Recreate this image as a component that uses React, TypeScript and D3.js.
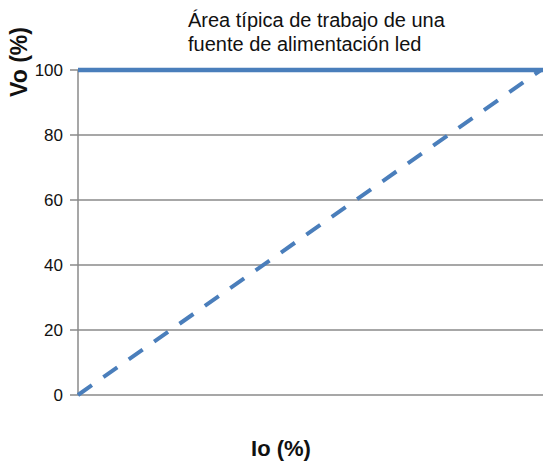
import React from "react";
import * as d3 from "d3";

const yTicks = [0, 20, 40, 60, 80, 100];
const lineIo = [0, 100];
const lineVo = [0, 100];
const limitIo = [0, 100];
const limitVo = [100, 100];
const titleLines = ["Área típica de trabajo de una", "fuente de alimentación led"];
const xLabel = "Io (%)";
const yLabel = "Vo (%)";

export default function App() {
  const W = 543, H = 469;
  const x = d3.scaleLinear().domain([0, 100]).range([78, 541]);
  const y = d3.scaleLinear().domain([0, 100]).range([395, 70]);
  const line = d3.line<number>().x((_, i) => x(lineIo[i])).y((d) => y(d));
  const limit = d3.line<number>().x((_, i) => x(limitIo[i])).y((d) => y(d));
  const font = "'Liberation Sans', Arial, sans-serif";
  return (
    <svg width={W} height={H} style={{ position: "absolute", left: 0, top: 0, background: "#fff" }} fontFamily={font}>
      {yTicks.map((t) => (
        <g key={t}>
          {t !== 100 && (
            <line x1={x(0)} x2={W} y1={y(t)} y2={y(t)} stroke="#8a8a8a" strokeWidth={1.5} />
          )}
          <line x1={70} x2={x(0)} y1={y(t)} y2={y(t)} stroke="#8a8a8a" strokeWidth={1.5} />
          <text x={63} y={y(t)} dy="0.36em" textAnchor="end" fontSize={17} fill="#111">{t}</text>
        </g>
      ))}
      <line x1={x(0)} x2={x(0)} y1={y(0)} y2={y(100)} stroke="#8a8a8a" strokeWidth={1.5} />
      <path d={limit(limitVo) || ""} fill="none" stroke="#4a7ebb" strokeWidth={4.5} />
      <line x1={x(100)} x2={W} y1={y(100)} y2={y(100)} stroke="#4a7ebb" strokeWidth={4.5} />
      <path d={line(lineVo) || ""} fill="none" stroke="#4a7ebb" strokeWidth={4} strokeDasharray="17 14" />
      {titleLines.map((s, i) => (
        <text key={i} x={188} y={27 + i * 23.5} fontSize={20} fill="#111">{s}</text>
      ))}
      <text transform="translate(27,62) rotate(-90)" textAnchor="middle" fontSize={23} fontWeight="bold" fill="#111">{yLabel}</text>
      <text x={281} y={456} textAnchor="middle" fontSize={22} fontWeight="bold" fill="#111">{xLabel}</text>
    </svg>
  );
}
